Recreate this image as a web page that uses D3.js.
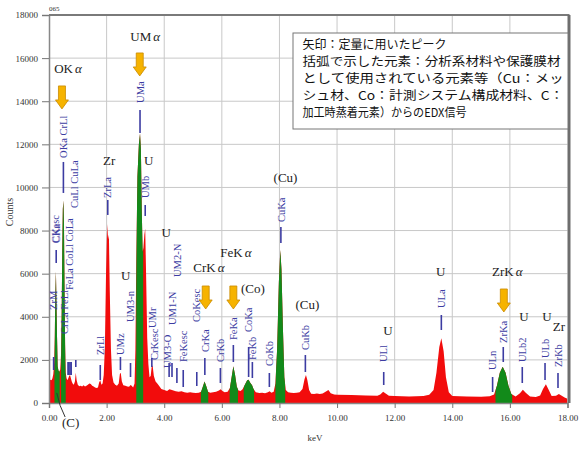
<!DOCTYPE html>
<html>
<head>
<meta charset="utf-8">
<script src="https://cdn.jsdelivr.net/npm/d3@7"></script>
<style>
body { margin: 0; background: #fff; }
svg { display: block; }
</style>
</head>
<body>
<svg width="585" height="450"></svg>
<script>
// EDX spectrum, [keV, counts]
var spectrum = [
    [0.00, 0], [0.03, 1050], [0.06, 1080], [0.09, 1060], [0.12, 1150], [0.15, 1350], [0.18, 1900],
    [0.20, 3100], [0.22, 5000], [0.24, 6100], [0.26, 4600], [0.28, 3000], [0.30, 1700], [0.33, 1500],
    [0.36, 1450], [0.39, 1550], [0.42, 2300], [0.44, 4200], [0.46, 7000], [0.48, 9000], [0.50, 9400],
    [0.52, 8300], [0.54, 5200], [0.56, 2700], [0.58, 1400], [0.61, 1150], [0.64, 1050], [0.67, 1150],
    [0.70, 1250], [0.73, 1300], [0.76, 1150], [0.79, 1000], [0.82, 900], [0.86, 850], [0.90, 1000],
    [0.93, 1400], [0.96, 1050], [1.00, 850], [1.05, 780], [1.10, 800], [1.15, 760], [1.20, 820],
    [1.25, 760], [1.30, 800], [1.35, 850], [1.40, 900], [1.45, 880], [1.50, 800], [1.55, 770],
    [1.60, 720], [1.65, 700], [1.70, 720], [1.74, 950], [1.78, 1050], [1.82, 850], [1.86, 900],
    [1.90, 1300], [1.94, 2600], [1.98, 6000], [2.02, 8300], [2.05, 7600], [2.08, 7800], [2.11, 5200],
    [2.15, 2500], [2.19, 1300], [2.24, 950], [2.30, 850], [2.36, 800], [2.42, 900], [2.46, 1350],
    [2.49, 1400], [2.53, 1000], [2.58, 820], [2.65, 800], [2.72, 760], [2.78, 750], [2.83, 830],
    [2.87, 800], [2.92, 720], [2.97, 900], [3.00, 2500], [3.03, 6600], [3.07, 10500], [3.12, 12000],
    [3.16, 12500], [3.19, 11800], [3.22, 9000], [3.25, 7000], [3.28, 7200], [3.31, 7800], [3.34, 8100],
    [3.37, 6000], [3.41, 3000], [3.45, 1800], [3.49, 1200], [3.53, 1250], [3.57, 1750], [3.60, 1700],
    [3.64, 1250], [3.70, 1000], [3.76, 900], [3.82, 800], [3.90, 650], [4.00, 600], [4.10, 560],
    [4.18, 640], [4.24, 620], [4.32, 580], [4.40, 540], [4.50, 520], [4.60, 540], [4.70, 500],
    [4.80, 470], [4.90, 500], [5.00, 470], [5.10, 460], [5.20, 480], [5.28, 520], [5.34, 750],
    [5.40, 1000], [5.46, 780], [5.52, 520], [5.60, 480], [5.70, 500], [5.80, 520], [5.90, 580],
    [5.96, 640], [6.02, 560], [6.10, 500], [6.20, 520], [6.28, 700], [6.34, 1200], [6.40, 1700],
    [6.46, 1300], [6.52, 750], [6.58, 580], [6.65, 560], [6.72, 640], [6.80, 850], [6.88, 1050],
    [6.93, 1080], [6.98, 950], [7.05, 820], [7.10, 650], [7.18, 500], [7.30, 460], [7.40, 480],
    [7.50, 450], [7.60, 500], [7.66, 540], [7.72, 470], [7.80, 520], [7.86, 900], [7.92, 2500],
    [7.98, 5600], [8.03, 7100], [8.07, 6200], [8.12, 3500], [8.17, 1200], [8.22, 600], [8.30, 500],
    [8.40, 470], [8.50, 460], [8.60, 470], [8.70, 500], [8.80, 650], [8.87, 1100], [8.92, 1300],
    [8.97, 1050], [9.03, 600], [9.10, 430], [9.20, 420], [9.30, 440], [9.40, 420], [9.50, 440],
    [9.60, 520], [9.70, 600], [9.78, 450], [9.90, 400], [10.0, 380], [10.5, 370], [11.0, 350],
    [11.4, 340], [11.5, 400], [11.6, 520], [11.7, 430], [11.8, 340], [12.0, 320], [12.5, 300],
    [13.0, 320], [13.2, 380], [13.35, 600], [13.45, 1400], [13.55, 2600], [13.62, 3000], [13.70, 2400],
    [13.78, 1200], [13.88, 500], [14.0, 320], [14.5, 300], [15.0, 290], [15.3, 310], [15.45, 400],
    [15.55, 800], [15.65, 1400], [15.75, 1680], [15.85, 1400], [15.95, 800], [16.05, 420], [16.2, 300],
    [16.35, 450], [16.45, 620], [16.55, 480], [16.7, 300], [16.9, 280], [17.05, 350], [17.15, 650],
    [17.25, 870], [17.35, 600], [17.45, 330], [17.6, 340], [17.7, 420], [17.8, 340], [17.9, 250],
    [18.0, 200]
];

// channel windows shown in green (keV)
var greenRanges = [[0.19, 0.37], [0.42, 0.58], [3.03, 3.27], [5.27, 5.53], [6.27, 6.56],
    [6.76, 7.12], [7.86, 8.20], [15.50, 16.08]];

var xTicks = [0, 2, 4, 6, 8, 10, 12, 14, 16, 18];
var yTicks = [0, 2000, 4000, 6000, 8000, 10000, 12000, 14000, 16000, 18000];

// line markers: [label, keV, marker low, marker high, label start] (counts)
var lineMarkers = [
    ["ZrM", 0.16, 1531, 2134, 4315],
    ["CKesc", 0.22, null, null, 7424],
    ["CKa", 0.25, 6496, 7099, 7424],
    ["OKa CrLl", 0.50, 9744, 11182, 11368],
    ["CrLa FeLl", 0.54, null, null, 3202],
    ["FeLa CoLl CoLa", 0.69, 1299, 1902, 5243],
    [null, 0.66, 1299, 1902, null],
    [null, 0.73, 1299, 1902, null],
    [null, 0.77, 1299, 1902, null],
    ["CuLl CuLa", 0.88, null, null, 9048],
    [null, 0.93, 1670, 1995, null],
    ["ZrLl", 1.78, 1067, 1763, 2227],
    ["ZrLa", 2.04, 8723, 9419, 9512],
    ["UMz", 2.48, 1531, 2134, 2227],
    ["UM3-n", 2.83, 1206, 1856, 3758],
    ["UMa", 3.16, 12528, 13595, 13920],
    ["UMb", 3.34, 8677, 9187, 9512],
    ["UMr", 3.57, 1670, 2088, 3480],
    ["CrKesc", 3.67, null, null, 1995],
    ["UM3-O", 4.09, null, null, 1624],
    [null, 4.17, 1206, 1856, null],
    ["UM1-N", 4.27, 1206, 1856, 3619],
    ["UM2-N", 4.44, 928, 1624, 5846],
    ["FeKesc", 4.66, 742, 1531, 1902],
    ["CoKesc", 5.13, 789, 1438, 3758],
    ["CrKa", 5.41, 1299, 2088, 2366],
    ["CrKb", 5.95, 928, 1624, 1902],
    ["FeKa", 6.40, 1902, 2691, 2923],
    ["CoKa", 6.93, 1206, 2598, 3294],
    ["FeKb", 7.06, 1160, 1902, 1995],
    ["CoKb", 7.65, 742, 1392, 1717],
    ["CuKa", 8.05, 7424, 8166, 8398],
    ["CuKb", 8.90, 1438, 2227, 2459],
    ["ULl", 11.62, 835, 1438, 1902],
    ["ULa", 13.62, 3387, 4083, 4408],
    ["ULn", 15.40, 510, 1206, 1531],
    ["ZrKa", 15.77, 1902, 2598, 2784],
    ["ULb2", 16.43, 928, 1670, 1902],
    ["ULb", 17.22, 1067, 1856, 2088],
    ["ZrKb", 17.67, 696, 1392, 1670]
];

// element notes: [text, greek suffix, keV (centre), counts (baseline)]
var elementNotes = [
    ["OK", "\u03b1", 0.66, 15312],
    ["UM", "\u03b1", 3.34, 16797],
    ["Zr", "", 2.09, 11043],
    ["U", "", 3.46, 11043],
    ["U", "", 4.07, 7702],
    ["U", "", 2.66, 5707],
    ["CrK", "\u03b1", 5.55, 6078],
    ["FeK", "\u03b1", 6.49, 6774],
    ["(Co)", "", 7.08, 5104],
    ["(Cu)", "", 8.21, 10254],
    ["(Cu)", "", 8.97, 4362],
    ["U", "", 11.77, 3155],
    ["U", "", 13.60, 5893],
    ["ZrK", "\u03b1", 15.91, 5893],
    ["U", "", 16.49, 3805],
    ["U", "", 17.29, 3805],
    ["Zr", "", 17.70, 3341],
    ["(C)", "", 0.75, -1114]
];

// quantification arrows: [keV, counts at top]
var arrows = [[0.45, 14710], [3.15, 16240], [5.44, 5429], [6.40, 5429], [15.79, 5290]];

var noteLines = [
    "矢印：定量に用いたピーク",
    "括弧で示した元素：分析系材料や保護膜材",
    "として使用されている元素等（Cu：メッ",
    "シュ材、Co：計測システム構成材料、C：",
    "加工時蒸着元素）からのEDX信号"
];

var svg = d3.select("svg");
var x = d3.scaleLinear().domain([0, 18]).range([49, 567.5]);
var y = d3.scaleLinear().domain([0, 18000]).range([403, 15]);

var serif = "'Liberation Serif', 'DejaVu Serif', serif";

// grid
svg.append("g").selectAll("line.v")
    .data(xTicks.slice(1, -1)).enter().append("line")
    .attr("x1", x).attr("x2", x)
    .attr("y1", y(0)).attr("y2", y(18000))
    .attr("stroke", "#c8c8c8").attr("stroke-width", 1);
svg.append("g").selectAll("line.h")
    .data(yTicks.slice(1, -1)).enter().append("line")
    .attr("x1", x(0)).attr("x2", x(18))
    .attr("y1", y).attr("y2", y)
    .attr("stroke", "#c8c8c8").attr("stroke-width", 1);

// spectrum
var defs = svg.append("defs");
defs.append("clipPath").attr("id", "plot")
    .append("rect")
    .attr("x", x(0)).attr("y", y(18000))
    .attr("width", x(18) - x(0)).attr("height", y(0) - y(18000));
var greenClip = defs.append("clipPath").attr("id", "green");
greenClip.selectAll("rect")
    .data(greenRanges).enter().append("rect")
    .attr("x", function (d) { return x(d[0]); })
    .attr("width", function (d) { return x(d[1]) - x(d[0]); })
    .attr("y", y(18000)).attr("height", y(0) - y(18000));

var area = d3.area()
    .x(function (d) { return x(d[0]); })
    .y0(y(0))
    .y1(function (d) { return y(d[1]); });

var plot = svg.append("g").attr("clip-path", "url(#plot)");
plot.append("path").datum(spectrum)
    .attr("d", area).attr("fill", "#f20c0c");
plot.append("path").datum(spectrum)
    .attr("d", area).attr("fill", "#128a1a")
    .attr("clip-path", "url(#green)");

// axes
var yAxis = svg.append("g")
    .attr("transform", "translate(" + x(0) + ",0)")
    .call(d3.axisLeft(y).tickValues(yTicks).tickFormat(d3.format("d")).tickSize(7).tickPadding(4));
var xAxis = svg.append("g")
    .attr("transform", "translate(0," + y(0) + ")")
    .call(d3.axisBottom(x).tickValues(xTicks).tickFormat(d3.format(".2f")).tickSize(5).tickPadding(7));
[yAxis, xAxis].forEach(function (ax) {
    ax.select(".domain").attr("stroke", "#888").attr("stroke-width", 1.5);
    ax.selectAll(".tick line").attr("stroke", "#777");
    ax.selectAll(".tick text").attr("fill", "#333").attr("font-family", serif).attr("font-size", 9);
});

// frame top / right
svg.append("line")
    .attr("x1", x(0)).attr("x2", x(18) + 2)
    .attr("y1", y(18000)).attr("y2", y(18000))
    .attr("stroke", "#7a7a7a").attr("stroke-width", 2);
svg.append("line")
    .attr("x1", x(18) + 1.5).attr("x2", x(18) + 1.5)
    .attr("y1", y(18000)).attr("y2", y(0))
    .attr("stroke", "#6e6e6e").attr("stroke-width", 3);

svg.append("text")
    .attr("x", x(0)).attr("y", 11)
    .attr("font-family", serif).attr("font-size", 7).attr("fill", "#333")
    .text("065");
svg.append("text")
    .attr("transform", "translate(13,212) rotate(-90)")
    .attr("text-anchor", "middle")
    .attr("font-family", serif).attr("font-size", 10).attr("fill", "#333")
    .text("Counts");
svg.append("text")
    .attr("x", 315).attr("y", 441)
    .attr("text-anchor", "middle")
    .attr("font-family", serif).attr("font-size", 9).attr("fill", "#333")
    .text("keV");

// line markers
var markerColor = "#3c3ca2";
svg.append("g").selectAll("line")
    .data(lineMarkers.filter(function (d) { return d[2] !== null; })).enter().append("line")
    .attr("x1", function (d) { return x(d[1]); })
    .attr("x2", function (d) { return x(d[1]); })
    .attr("y1", function (d) { return y(d[2]); })
    .attr("y2", function (d) { return y(d[3]); })
    .attr("stroke", markerColor).attr("stroke-width", 1.6);
svg.append("g").selectAll("text")
    .data(lineMarkers.filter(function (d) { return d[0] !== null; })).enter().append("text")
    .attr("transform", function (d) {
        return "translate(" + x(d[1]) + "," + y(d[4]) + ") rotate(-90)";
    })
    .attr("dy", "0.35em")
    .attr("font-family", serif).attr("font-size", 10.5)
    .attr("fill", markerColor)
    .text(function (d) { return d[0]; });

// element notes
var notes = svg.append("g").selectAll("text")
    .data(elementNotes).enter().append("text")
    .attr("x", function (d) { return x(d[2]); })
    .attr("y", function (d) { return y(d[3]); })
    .attr("text-anchor", "middle")
    .attr("font-family", serif).attr("font-size", 13).attr("fill", "#222");
notes.append("tspan").text(function (d) { return d[0]; });
notes.append("tspan").attr("font-style", "italic")
    .attr("dx", function (d) { return d[1] ? 2 : 0; })
    .text(function (d) { return d[1]; });

// (C) leader
svg.append("path")
    .attr("d", "M" + x(0.27) + "," + y(464) + " Q" + x(0.36) + "," + y(-150) + " " + x(0.56) + "," + y(-650))
    .attr("fill", "none").attr("stroke", "#333").attr("stroke-width", 1);

// arrows
svg.append("g").selectAll("path")
    .data(arrows).enter().append("path")
    .attr("transform", function (d) { return "translate(" + x(d[0]) + "," + y(d[1]) + ")"; })
    .attr("d", "M-3.5,0 L3.5,0 L3.5,14 L6.5,14 L0,23 L-6.5,14 L-3.5,14 Z")
    .attr("fill", "#f6b300").attr("stroke", "#c98a00").attr("stroke-width", 0.8);

// note box
svg.append("rect")
    .attr("x", 293).attr("y", 33).attr("width", 275).attr("height", 96)
    .attr("fill", "#fff").attr("stroke", "#777").attr("stroke-width", 1);
var widths = [null, 258, 261, 261, 164];
svg.append("g").selectAll("text")
    .data(noteLines).enter().append("text")
    .attr("x", 302.5)
    .attr("y", function (d, i) { return 49 + i * 17; })
    .attr("font-family", "'Noto Sans CJK JP', sans-serif")
    .attr("font-size", 12).attr("fill", "#111")
    .each(function (d, i) {
        if (widths[i]) d3.select(this).attr("textLength", widths[i]).attr("lengthAdjust", "spacingAndGlyphs");
    })
    .text(function (d) { return d; });
</script>
</body>
</html>
